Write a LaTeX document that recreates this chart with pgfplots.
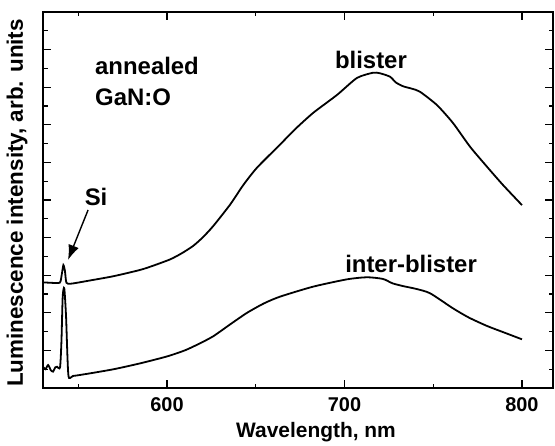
\documentclass[border=0pt]{standalone}
\usepackage{fontspec}
\setmainfont{Liberation Sans}
\usepackage{pgfplots}
\pgfplotsset{compat=1.18}
\usetikzlibrary{arrows.meta}

\begin{document}
\begin{tikzpicture}
\begin{axis}[
    name=ax,
    scale only axis,
    width=510bp, height=376bp,
    xmin=530.1, xmax=817.5, ymin=0, ymax=20,
    xtick={600,700,800},
    minor xtick={550,650,750},
    ytick={0,2,...,20},
    minor ytick={1,3,...,19},
    yticklabels={},
    tick align=inside,
    major tick length=8bp,
    minor tick length=4.5bp,
    every tick/.style={black, line width=1.2bp},
    axis line style={line width=1.4bp},
    /pgf/number format/assume math mode=true,
    xticklabel style={font=\fontsize{20}{22}\selectfont\bfseries, yshift=-6bp},
    xlabel={Wavelength, nm},
    ylabel={Luminescence intensity, arb. units},
    xlabel style={font=\fontsize{21}{24}\selectfont\bfseries, at={(axis description cs:0.5,0)}, anchor=center, yshift=-44bp, xshift=18bp},
    ylabel style={font=\fontsize{22.5}{25}\selectfont\bfseries, at={(axis description cs:0,0.5)}, anchor=center, yshift=26bp, xshift=-3bp},
    clip=false
]
% blister
\addplot[black, line width=1.8bp, smooth, tension=0.4] coordinates {
    (530.1,5.62)(534,5.60)(539.5,5.60)(540.6,6.0)(541.6,6.54)(542.5,6.2)(543.3,5.6)
    (546,5.55)(556.6,5.72)(570,5.95)(584.8,6.28)(592,6.5)(601.7,6.84)(608,7.15)(614.6,7.55)
    (620,8.0)(625.9,8.6)(635.5,9.75)(643,10.8)(650.7,11.72)(663.7,12.95)(672,13.75)(682.3,14.63)(695.8,15.59)
    (707,16.49)(716.1,16.77)(720,16.74)(725.6,16.56)(729,16.25)(733,16.05)(738,15.92)(742.5,15.76)
    (752.1,15.05)(761.1,14.1)(770.7,12.84)(780.3,11.77)(789.3,10.8)(800,9.73)
};
% inter-blister
\addplot[black, line width=1.8bp, smooth, tension=0.4] coordinates {
    (530.1,1.13)(531.5,1.0)(533,1.22)(534.5,0.95)(535.8,0.87)(537,1.1)(538,1.13)
    (539.7,1.1)(540.5,2.5)(541.2,4.86)(542.1,5.3)(543.1,3.79)(544.4,0.69)(547,0.64)
    (556.6,0.78)(570,1.0)(584.8,1.31)(600,1.68)(610,2.0)(618,2.35)(626,2.75)(635.5,3.38)(645.1,4.0)
    (654.6,4.5)(663.7,4.86)(682.3,5.39)(701.4,5.78)(712.7,5.89)(721.7,5.80)(727,5.57)(733,5.42)(740,5.28)
    (748.2,5.04)(761.1,4.24)(770,3.75)(780.3,3.3)(790,2.95)(800,2.59)
};
\node[anchor=base west, font=\fontsize{24}{26}\selectfont\bfseries, inner sep=0] at (axis cs:559.4,16.65) {annealed};
\node[anchor=base west, font=\fontsize{24}{26}\selectfont\bfseries, inner sep=0] at (axis cs:559.4,15.05) {GaN:O};
\node[anchor=base, font=\fontsize{24}{26}\selectfont\bfseries, inner sep=0] at (axis cs:714.9,17.0) {blister};
\node[anchor=base, font=\fontsize{24}{26}\selectfont\bfseries, inner sep=0] at (axis cs:737.5,6.12) {inter-blister};
\node[anchor=base, font=\fontsize{24}{26}\selectfont\bfseries, inner sep=0] at (axis cs:560,9.73) {Si};
\draw[-{Latex[length=15bp,width=11bp]}, line width=1.4bp] (axis cs:555.5,9.47) -- (axis cs:544.2,6.81);
\end{axis}
\pgfresetboundingbox
\path (ax.south west) ++(-43bp,-58bp) rectangle ([shift={(2bp,12bp)}]ax.north east);
\end{tikzpicture}
\end{document}
